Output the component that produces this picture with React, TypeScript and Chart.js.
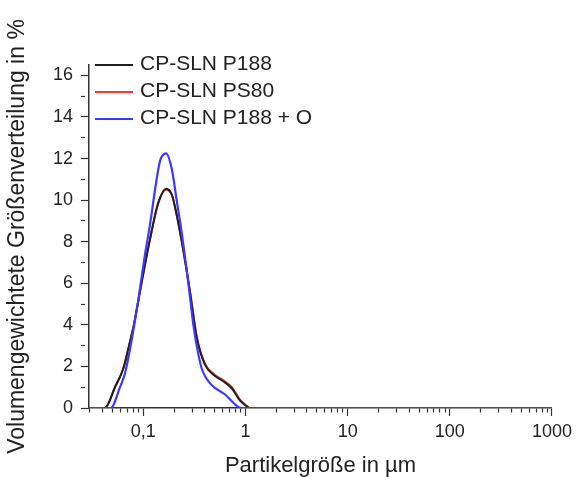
import { useEffect, useRef } from 'react';
import { Chart, registerables } from 'chart.js';

Chart.register(...registerables);

// ---- data ----
const seriesNames = ['CP-SLN P188', 'CP-SLN PS80', 'CP-SLN P188 + O'];
const seriesColors = ['#1e1e1e', '#ff3434', '#3a3aff'];

const p188Sizes = [0.0294, 0.042, 0.0528, 0.0637, 0.0741, 0.08, 0.096, 0.116, 0.14, 0.167, 0.19, 0.212, 0.238, 0.286, 0.333, 0.4, 0.5, 0.6, 0.734, 0.885, 1.03, 1.1, 1000];
const p188Values = [0, 0, 1.0, 1.9, 3.2, 3.9, 6.0, 8.1, 9.87, 10.55, 10.27, 9.3, 8.0, 5.6, 3.4, 2.1, 1.55, 1.3, 0.95, 0.35, 0.08, 0, 0];

const ps80Sizes = [0.0294, 0.042, 0.0528, 0.0637, 0.0741, 0.08, 0.096, 0.116, 0.14, 0.167, 0.19, 0.212, 0.238, 0.286, 0.333, 0.4, 0.5, 0.6, 0.734, 0.885, 1.03, 1.1, 1000];
const ps80Values = [0, 0, 1.0, 1.9, 3.2, 3.9, 6.0, 8.1, 9.85, 10.5, 10.25, 9.3, 8.0, 5.65, 3.45, 2.15, 1.6, 1.35, 1.0, 0.4, 0.1, 0, 0];

const p188OSizes = [0.0294, 0.048, 0.0591, 0.0662, 0.0769, 0.0893, 0.104, 0.116, 0.136, 0.146, 0.167, 0.19, 0.212, 0.238, 0.276, 0.309, 0.333, 0.373, 0.468, 0.631, 0.822, 0.9, 1000];
const p188OValues = [0, 0, 1.0, 1.67, 3.27, 5.2, 7.4, 8.8, 11.1, 11.9, 12.25, 11.5, 10.0, 8.4, 6.0, 4.0, 3.0, 1.9, 1.1, 0.65, 0.1, 0, 0];

// ---- axes ----
const xMin = 0.0294;
const xMax = 1000;
const yMin = 0;
const yMax = 16.5;
const xMajorTicks = [0.1, 1, 10, 100, 1000];
const xMajorLabels = ['0,1', '1', '10', '100', '1000'];
const xDecades = [0.01, 0.1, 1, 10, 100];
const xMinorMultipliers = [2, 3, 4, 5, 6, 7, 8, 9];
const xTitle = 'Partikelgröße in µm';
const yTitle = 'Volumengewichtete Größenverteilung in %';

const FONT = '"Liberation Sans", Arial, Helvetica, sans-serif';

const isXMajor = (v: number) => xMajorTicks.some((m) => Math.abs(v / m - 1) < 1e-6);

const buildXTicks = () => {
  const vals: number[] = [];
  xDecades.forEach((d) => {
    xMinorMultipliers.forEach((m) => {
      const v = d * m;
      if (v >= xMin && v <= xMax) vals.push(v);
    });
  });
  xMajorTicks.forEach((v) => vals.push(v));
  return vals.sort((a, b) => a - b);
};

const toPoints = (xs: number[], ys: number[]) => xs.map((x, i) => ({ x, y: ys[i] }));

const insetLegend = {
  id: 'insetLegend',
  afterDraw(chart: any) {
    const { ctx, chartArea } = chart;
    ctx.save();
    ctx.font = `21px ${FONT}`;
    ctx.textBaseline = 'middle';
    ctx.textAlign = 'left';
    chart.data.datasets.forEach((ds: any, i: number) => {
      const y = chartArea.top + i * 27;
      const x0 = chartArea.left + 6;
      ctx.strokeStyle = ds.borderColor;
      ctx.lineWidth = 2;
      ctx.beginPath();
      ctx.moveTo(x0, y);
      ctx.lineTo(x0 + 38, y);
      ctx.stroke();
      ctx.fillStyle = '#222';
      ctx.fillText(ds.label, x0 + 45, y - 1);
    });
    ctx.restore();
  },
};

export default function App() {
  const ref = useRef<HTMLCanvasElement | null>(null);

  useEffect(() => {
    if (!ref.current) return;
    const xTicks = buildXTicks();
    const chart = new Chart(ref.current, {
      type: 'line',
      data: {
        datasets: [
          {
            label: seriesNames[0],
            data: toPoints(p188Sizes, p188Values),
            borderColor: seriesColors[0],
            backgroundColor: seriesColors[0],
            borderWidth: 2,
            pointRadius: 0,
            cubicInterpolationMode: 'monotone',
            order: 1,
          },
          {
            label: seriesNames[1],
            data: toPoints(ps80Sizes, ps80Values),
            borderColor: seriesColors[1],
            backgroundColor: seriesColors[1],
            borderWidth: 2,
            pointRadius: 0,
            cubicInterpolationMode: 'monotone',
            order: 2,
          },
          {
            label: seriesNames[2],
            data: toPoints(p188OSizes, p188OValues),
            borderColor: seriesColors[2],
            backgroundColor: seriesColors[2],
            borderWidth: 2.2,
            pointRadius: 0,
            cubicInterpolationMode: 'monotone',
            order: 0,
          },
        ],
      },
      options: {
        responsive: false,
        animation: false,
        devicePixelRatio: 1,
        layout: { padding: { top: 65, right: 25, left: 0, bottom: 0 } },
        plugins: {
          legend: { display: false },
          tooltip: { enabled: false },
        },
        scales: {
          x: {
            type: 'logarithmic',
            min: xMin,
            max: xMax,
            afterBuildTicks: (axis: any) => {
              axis.ticks = xTicks.map((v) => ({ value: v, major: isXMajor(v) }));
            },
            afterFit: (axis: any) => {
              axis.height = 69;
            },
            border: { display: true, color: '#333', width: 1.5 },
            grid: {
              drawOnChartArea: false,
              drawTicks: true,
              tickLength: 8,
              tickColor: '#333',
              tickWidth: 1.2,
              tickBorderDash: (ctx: any) => (ctx.tick && isXMajor(ctx.tick.value) ? [] : [4, 100]),
            },
            ticks: {
              autoSkip: false,
              maxRotation: 0,
              minRotation: 0,
              padding: 5,
              color: '#222',
              font: { family: FONT, size: 18 },
              callback: (v: any) => {
                const i = xMajorTicks.findIndex((m) => Math.abs(Number(v) / m - 1) < 1e-6);
                return i >= 0 ? xMajorLabels[i] : '';
              },
            },
            title: {
              display: true,
              text: xTitle,
              color: '#222',
              font: { family: FONT, size: 22, lineHeight: 1 },
              padding: { top: 0, bottom: 0 },
            },
          },
          y: {
            type: 'linear',
            min: yMin,
            max: yMax,
            afterFit: (axis: any) => {
              axis.width = 89;
            },
            border: { display: true, color: '#333', width: 1.5 },
            grid: {
              drawOnChartArea: false,
              drawTicks: true,
              tickLength: 8,
              tickColor: '#333',
              tickWidth: 1.2,
              tickBorderDash: (ctx: any) => (ctx.tick && ctx.tick.value % 2 === 0 ? [] : [4, 100]),
            },
            ticks: {
              stepSize: 1,
              autoSkip: false,
              includeBounds: false,
              padding: 8,
              color: '#222',
              font: { family: FONT, size: 18 },
              callback: (v: any) => (Number(v) % 2 === 0 ? String(v) : ''),
            },
            title: {
              display: true,
              text: yTitle,
              color: '#222',
              font: { family: FONT, size: 23, lineHeight: 1 },
              padding: { top: 6, bottom: 0 },
            },
          },
        },
      },
      plugins: [insetLegend],
    } as any);
    return () => chart.destroy();
  }, []);

  return (
    <div style={{ position: 'fixed', left: 0, top: 0, width: 577, height: 477, background: '#fff' }}>
      <canvas ref={ref} width={577} height={477} style={{ width: 577, height: 477 }} />
    </div>
  );
}
